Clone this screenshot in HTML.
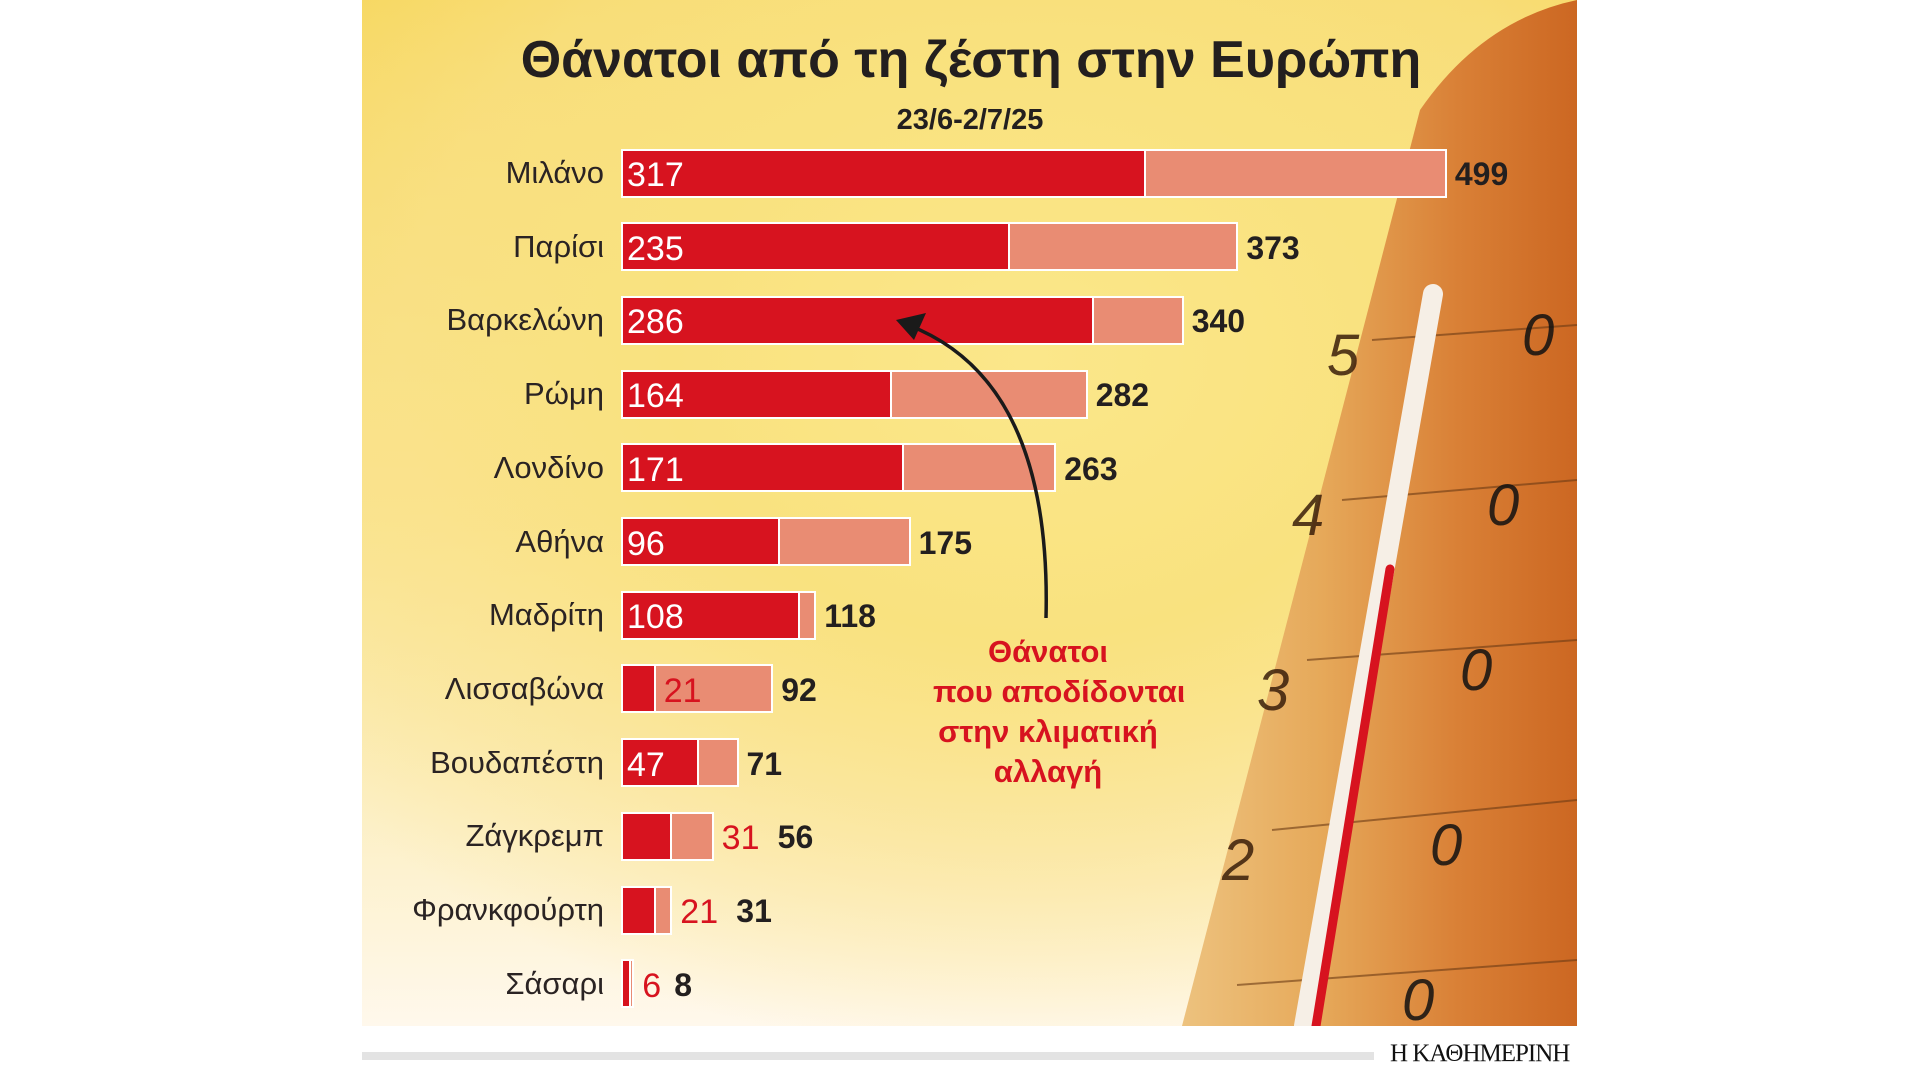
<!DOCTYPE html>
<html><head><meta charset="utf-8"><style>
body{margin:0;width:1920px;height:1080px;background:#fff;position:relative;overflow:hidden;font-family:"Liberation Sans","DejaVu Sans",sans-serif}
#panel{position:absolute;left:362px;top:0;width:1215px;height:1026px;overflow:hidden;
background:radial-gradient(ellipse 900px 700px at 55% 35%,#fbe78a 0%,#f9e27f 40%,rgba(250,226,140,0.6) 70%,rgba(255,255,255,0) 100%),linear-gradient(180deg,#f6d65a 0%,#f9e48f 50%,#fdf2d0 85%,#fff8ec 100%)}
.t{position:absolute;white-space:nowrap}
.lab{position:absolute;font-size:31px;color:#2a2323;line-height:1}
.bar{position:absolute;height:49px;box-sizing:border-box;border:2px solid #fff}
.r{background:#d7131f}.p{background:#e98c73}
.w{position:absolute;color:#fff;font-size:34px;line-height:1}
.b{position:absolute;font-weight:bold;font-size:32px;color:#231f1f;line-height:1}
.rd{position:absolute;color:#d7131f;font-size:34px;line-height:1}
</style></head><body>
<div id="panel">
<svg width="1215" height="1026" style="position:absolute;left:0;top:0">
<defs>
<linearGradient id="wood" x1="0" y1="0" x2="1" y2="0">
<stop offset="0" stop-color="#edc27e"/><stop offset="0.35" stop-color="#e6a95a"/><stop offset="0.7" stop-color="#d98036"/><stop offset="1" stop-color="#cc6722"/></linearGradient>
</defs>
<path d="M1058 110 Q1120 20 1215 0 L1215 1026 L820 1026 Z" fill="url(#wood)"/>
<g stroke="#6b3a14" stroke-width="2" opacity="0.6">
<line x1="1010" y1="340" x2="1215" y2="325"/><line x1="980" y1="500" x2="1215" y2="480"/>
<line x1="945" y1="660" x2="1215" y2="640"/><line x1="910" y1="830" x2="1215" y2="800"/>
<line x1="875" y1="985" x2="1215" y2="960"/>
</g>
<g font-family="Liberation Sans" font-style="italic" font-size="58" fill="#3a1e0a" opacity="0.85">
<text x="965" y="375">5</text><text x="1160" y="355" fill="#111">0</text>
<text x="930" y="535">4</text><text x="1125" y="525" fill="#111">0</text>
<text x="895" y="710">3</text><text x="1098" y="690" fill="#111">0</text>
<text x="860" y="880">2</text><text x="1068" y="865" fill="#111">0</text>
<text x="1040" y="1020" fill="#111">0</text>
</g>
<line x1="1071" y1="294" x2="942" y2="1026" stroke="#f6efe6" stroke-width="20" stroke-linecap="round"/>
<line x1="1028" y1="569" x2="954" y2="1026" stroke="#d7131f" stroke-width="9" stroke-linecap="round"/>
</svg>
<div class="t" style="left:0;width:1218px;text-align:center;top:30px;font-size:52px;font-weight:bold;color:#231f1f">Θάνατοι από τη ζέστη στην Ευρώπη</div>
<div class="t" style="left:0;width:1216px;text-align:center;top:104px;font-size:29px;font-weight:bold;color:#231f1f">23/6-2/7/25</div>
<div class="t" style="left:571px;width:230px;text-align:center;top:632px;font-size:31px;font-weight:bold;color:#d7131f;line-height:40px">Θάνατοι<br>που αποδίδονται<br>στην κλιματική<br>αλλαγή</div>
</div>
<div id="chart"></div>
<svg width="1920" height="1080" style="position:absolute;left:0;top:0">
<path d="M1046 618 Q1052 380 908 325" fill="none" stroke="#1a1a1a" stroke-width="3.5"/>
<path d="M896 320 L926 313 L914 340 Z" fill="#1a1a1a"/>
</svg>
<div style="position:absolute;left:362px;top:1052px;width:1012px;height:8px;background:#e3e3e3"></div>
<div class="t" style="left:1390px;top:1040px;font-family:'Liberation Serif',serif;font-size:25px;color:#111;letter-spacing:-1px">Η ΚΑΘΗΜΕΡΙΝΗ</div>
<script>
var d=[["Μιλάνο",317,499,"w"],["Παρίσι",235,373,"w"],["Βαρκελώνη",286,340,"w"],["Ρώμη",164,282,"w"],["Λονδίνο",171,263,"w"],["Αθήνα",96,175,"w"],["Μαδρίτη",108,118,"w"],["Λισσαβώνα",21,92,"in"],["Βουδαπέστη",47,71,"w"],["Ζάγκρεμπ",31,56,"out"],["Φρανκφούρτη",21,31,"out"],["Σάσαρι",6,8,"out"]];
var h="",X=621,k=1.655;
d.forEach(function(r,i){var c=173+i*73.7,y=c-24.5,rw=r[1]*k,tw=r[2]*k;
h+='<div class="lab" style="top:'+(c-16)+'px;right:'+(1920-604)+'px">'+r[0]+'</div>';
h+='<div class="bar p" style="left:'+X+'px;top:'+y+'px;width:'+tw+'px"></div>';
h+='<div class="bar r" style="left:'+X+'px;top:'+y+'px;width:'+rw+'px"></div>';
var ex=X+tw+8;
if(r[3]=="w")h+='<div class="w" style="left:'+(X+6)+'px;top:'+(c-15)+'px">'+r[1]+'</div>';
if(r[3]=="in")h+='<div class="rd" style="left:'+(X+rw+8)+'px;top:'+(c-15)+'px">'+r[1]+'</div>';
if(r[3]=="out"){h+='<div class="rd" style="left:'+ex+'px;top:'+(c-15)+'px">'+r[1]+'</div>';ex+=(r[1]<10?32:56);}
h+='<div class="b" style="left:'+ex+'px;top:'+(c-15)+'px">'+r[2]+'</div>';});
document.getElementById("chart").innerHTML=h;
</script>
</body></html>
